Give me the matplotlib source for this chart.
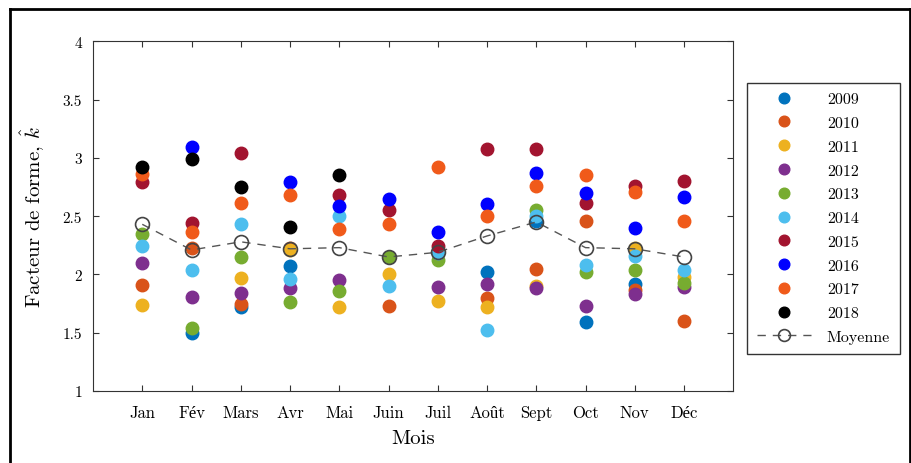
import matplotlib
matplotlib.use('Agg')
import matplotlib.pyplot as plt
from matplotlib.lines import Line2D
import numpy as np

nan = np.nan

#--------------------------------- data -------------------------------------------------------------------------------

months = ['Jan', 'Fév', 'Mars', 'Avr', 'Mai', 'Juin', 'Juil', 'Août', 'Sept', 'Oct', 'Nov', 'Déc']

k_2009 = [nan, 1.50, 1.72, 2.07, nan, nan, 2.20, 2.02, 2.46, 1.59, 1.92, nan]
k_2010 = [1.91, 2.23, 1.75, 2.23, nan, 1.73, nan, 1.80, 2.05, 2.46, 1.87, 1.60]
k_2011 = [1.74, nan, 1.97, 2.21, 1.72, 2.00, 1.77, 1.72, 1.90, nan, 2.23, 1.98]
k_2012 = [2.10, 1.81, 1.84, 1.88, 1.95, nan, 1.89, 1.92, 1.88, 1.73, 1.83, 1.89]
k_2013 = [2.35, 1.54, 2.15, 1.76, 1.86, 2.15, 2.12, nan, 2.55, 2.02, 2.04, 1.93]
k_2014 = [2.24, 2.04, 2.43, 1.96, 2.50, 1.90, 2.18, 1.52, 2.50, 2.08, 2.16, 2.04]
k_2015 = [2.79, 2.44, 3.04, nan, 2.68, 2.55, 2.24, 3.08, 3.08, 2.61, 2.76, 2.80]
k_2016 = [nan, 3.09, nan, 2.79, 2.59, 2.65, 2.36, 2.60, 2.87, 2.70, 2.40, 2.66]
k_2017 = [2.86, 2.36, 2.61, 2.68, 2.39, 2.43, 2.92, 2.50, 2.76, 2.85, 2.71, 2.46]
k_2018 = [2.92, 2.99, 2.75, 2.41, 2.85, nan, nan, nan, nan, nan, nan, nan]

k_mean = [2.43, 2.21, 2.28, 2.22, 2.23, 2.15, 2.19, 2.33, 2.45, 2.23, 2.22, 2.15]

years = ['2009', '2010', '2011', '2012', '2013', '2014', '2015', '2016', '2017', '2018']
colors = ['#0072BD', '#D95319', '#EDB120', '#7E2F8E', '#77AC30',
          '#4DBEEE', '#A2142F', '#0000FF', '#F05A1A', '#000000']

#--------------------------------- plot -------------------------------------------------------------------------------

# Computer Modern first, Liberation Serif for the accented letters cmr10 lacks
plt.rcParams['font.family'] = ['cmr10', 'Liberation Serif']
plt.rcParams['mathtext.fontset'] = 'cm'
plt.rcParams['axes.formatter.use_mathtext'] = True

fig = plt.figure(figsize=(9.12, 4.64), dpi=100)
ax = fig.add_axes([0.102, 0.155, 0.702, 0.754])

x = np.arange(1, len(months) + 1)
series = [k_2009, k_2010, k_2011, k_2012, k_2013, k_2014, k_2015, k_2016, k_2017, k_2018]

for year, vals, c in zip(years, series, colors):
    ax.plot(x, vals, 'o', color=c, ms=9, label=year)

ax.plot(x, k_mean, '--o', color='#555555', lw=1.0, ms=10, mfc='none',
        mec='#444444', mew=1.2, dashes=(6, 5), label='Moyenne')

ax.set_xlim(0, 13)
ax.set_ylim(1, 4)
ax.set_xticks(x)
ax.set_xticklabels(months, fontsize=12)
ax.set_yticks([1, 1.5, 2, 2.5, 3, 3.5, 4])
ax.set_yticklabels(['1', '1.5', '2', '2.5', '3', '3.5', '4'], fontsize=11)
ax.tick_params(direction='in', top=True, right=True, length=4, color='#333333')
ax.tick_params(axis='x', pad=10)
ax.tick_params(axis='y', pad=8)
for s in ax.spines.values():
    s.set_color('#333333')
    s.set_linewidth(0.8)

ax.set_xlabel('Mois', fontsize=15, labelpad=6)
ax.set_ylabel(r'Facteur de forme, $\hat{k}$', fontsize=15, labelpad=11)

fig.legend(loc='upper left', bbox_to_anchor=(0.819, 0.82), fontsize=11.5,
           fancybox=False, framealpha=1, edgecolor='#333333',
           handlelength=3.4, handletextpad=1.0, labelspacing=0.6,
           markerscale=0.85, borderpad=0.6, borderaxespad=0.0)

# frame around the whole figure
for xs, ys in [([10 / 912, 10 / 912], [0, 1 - 10 / 464]),
               ([10 / 912, 910 / 912], [1 - 10 / 464, 1 - 10 / 464]),
               ([910 / 912, 910 / 912], [0, 1 - 10 / 464])]:
    fig.add_artist(Line2D(xs, ys, transform=fig.transFigure, color='black', lw=2))

fig.savefig('out.png', dpi=100)
